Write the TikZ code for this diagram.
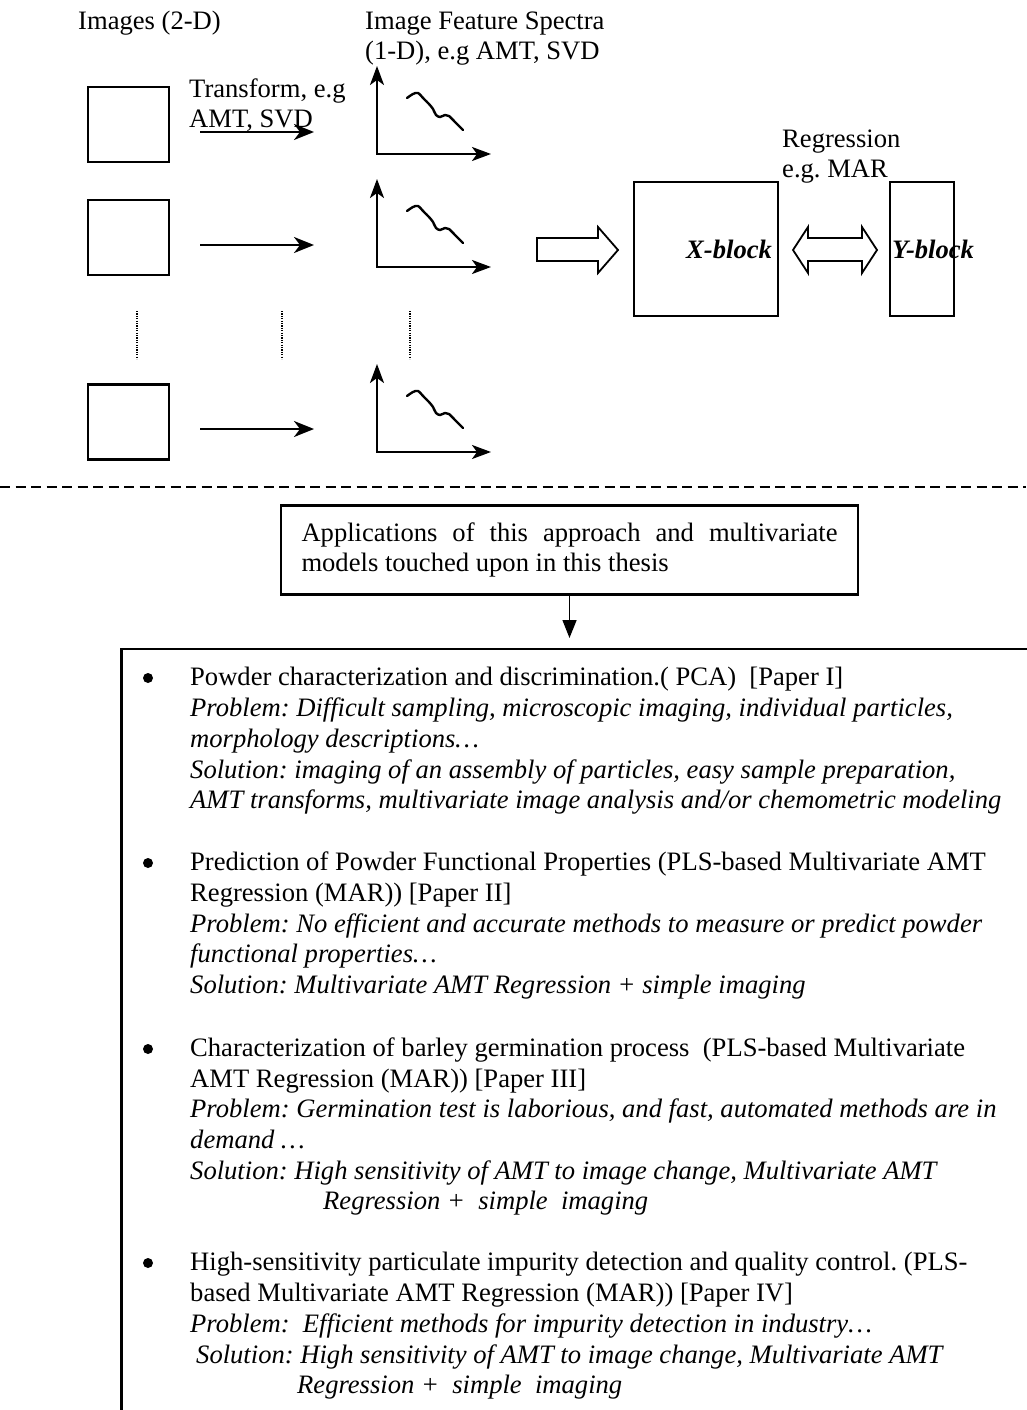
\documentclass[tikz,border=0pt]{standalone}
\usepackage{fontspec}
\setmainfont{Liberation Serif}
\usetikzlibrary{arrows.meta}
\frenchspacing
\tikzset{
  txt/.style={inner sep=0pt, anchor=base west, font=\fontsize{26.6}{31}\selectfont},
  itx/.style={inner sep=0pt, anchor=base west, font=\fontsize{26.6}{31}\selectfont\itshape},
  bix/.style={inner sep=0pt, anchor=base west, font=\fontsize{26.6}{31}\selectfont\bfseries\itshape},
  imgbox/.style={draw, line width=2.6pt, minimum width=81pt, minimum height=75pt, inner sep=0pt},
  blkbox/.style={draw, line width=1.8pt, inner sep=0pt},
  arr/.style={line width=2.3pt, -{Stealth[length=20pt,width=16pt,inset=6pt]}},
  axes/.style={line width=2.3pt, {Stealth[length=19pt,width=14pt,inset=5pt]}-{Stealth[length=19pt,width=14pt,inset=5pt]}},
  wave/.style={line width=2.4pt, line cap=round, line join=round},
  dots/.style={line width=1.3pt, dash pattern=on 1.2pt off 1.2pt},
  barrow/.style={draw, line width=1.8pt, line join=miter},
  dashsep/.style={line width=1.7pt, dash pattern=on 10pt off 5.5pt},
  bigbox/.style={line width=2.4pt},
  downarr/.style={line width=1.5pt, -{Triangle[length=18pt,width=14pt]}},
  bul/.style={circle, fill, inner sep=0pt, minimum size=10pt},
}
\begin{document}
\begin{tikzpicture}[x=1pt,y=-1pt]
\useasboundingbox (0,0) rectangle (1026,1410);

% headings
\node[txt] (hImg) at (78,30) {Images (2-D)};
\node[txt] (hSp1) at (365,30) {Image Feature Spectra};
\node[txt] (hSp2) at (365,60) {(1-D), e.g AMT, SVD};
\node[txt] (hTr1) at (189,98) {Transform, e.g};
\node[txt] (hTr2) at (189,128) {AMT, SVD};

% rows: images, arrows, spectra
\foreach \r/\by/\ay/\cy in {1/124.5/132/154, 2/237.5/245/267, 3/422/429/452}{
  \node[imgbox] (img\r) at (128.5,\by) {};
  \coordinate (as\r) at (200,\ay);
  \coordinate (ae\r) at (314,\ay);
  \draw[arr] (as\r) -- (ae\r);
  \coordinate (c\r) at (377,\cy);
  \coordinate (ty\r) at (377,\cy-88);
  \coordinate (tx\r) at (491,\cy);
  \draw[axes] (ty\r) -- (c\r) -- (tx\r);
  \draw[wave, shift={(377,\cy)}] plot[smooth, tension=0.5] coordinates
    {(30,-56) (36,-60) (41,-61) (47,-55) (52,-50) (56,-45) (59,-39) (63,-37) (68,-39) (72,-38) (78,-32) (86,-24)};
}

% dotted continuation marks
\draw[dots] (137,311) -- (137,359);
\draw[dots] (282,311) -- (282,359);
\draw[dots] (410,311) -- (410,359);

% block arrow into X-block
\draw[barrow] (537,238) -- (598,238) -- (598,227) -- (618,250) -- (598,273) -- (598,261) -- (537,261) -- cycle;

% X-block and Y-block
\node[blkbox, minimum width=144pt, minimum height=134pt] (xb) at (706,249) {};
\node[bix] (xbl) at (686,258) {X-block};
\node[blkbox, minimum width=64pt, minimum height=134pt] (yb) at (922,249) {};

% double arrow
\draw[barrow] (793,250) -- (808,227) -- (808,238) -- (862,238) -- (862,227) -- (877,250) -- (862,273) -- (862,261) -- (808,261) -- (808,273) -- cycle;

\node[bix] (ybl) at (892,258) {Y-block};
\node[txt] (rg1) at (782,147) {Regression};
\node[txt] (rg2) at (782,177) {e.g. MAR};

% dashed separator
\draw[dashsep] (0,487) -- (1026,487);

% applications box
\node[draw, line width=2.2pt, text width=536pt, inner xsep=20.5pt, inner ysep=0pt,
      minimum height=89pt, align=justify, font=\fontsize{26.6}{30}\selectfont] (app) at (569.5,550)
  {\hyphenpenalty=10000 Applications of this approach and multivariate\linebreak models touched upon in this thesis};
\coordinate (bt) at (569.5,638);
\draw[downarr] (app.south) -- (bt);

% big list box (open to right and bottom)
\draw[bigbox] (1030,649) -- (121.5,649) -- (121.5,1414);

% item 1
\node[bul] (b1) at (148,678) {};
\node[txt] at (190,685) {Powder characterization and discrimination.( PCA)\ \ [Paper I]};
\node[itx] at (190,716) {Problem: Difficult sampling, microscopic imaging, individual particles,};
\node[itx] at (190,747) {morphology descriptions…};
\node[itx] at (190,778) {Solution: imaging of an assembly of particles, easy sample preparation,};
\node[itx] at (190,808) {AMT transforms, multivariate image analysis and/or chemometric modeling};

% item 2
\node[bul] (b2) at (148,863) {};
\node[txt] at (190,870) {Prediction of Powder Functional Properties (PLS-based Multivariate AMT};
\node[txt] at (190,901) {Regression (MAR)) [Paper II]};
\node[itx] at (190,932) {Problem: No efficient and accurate methods to measure or predict powder};
\node[itx] at (190,962) {functional properties…};
\node[itx] at (190,993) {Solution: Multivariate AMT Regression + simple imaging};

% item 3
\node[bul] (b3) at (148,1049) {};
\node[txt] at (190,1056) {Characterization of barley germination process\ \ (PLS-based Multivariate};
\node[txt] at (190,1087) {AMT Regression (MAR)) [Paper III]};
\node[itx] at (190,1117) {Problem: Germination test is laborious, and fast, automated methods are in};
\node[itx] at (190,1148) {demand …};
\node[itx] at (190,1179) {Solution: High sensitivity of AMT to image change, Multivariate AMT};
\node[itx] at (323,1209) {Regression +\ \ simple\ \ imaging};

% item 4
\node[bul] (b4) at (148,1263) {};
\node[txt] at (190,1270) {High-sensitivity particulate impurity detection and quality control. (PLS-};
\node[txt] at (190,1301) {based Multivariate AMT Regression (MAR)) [Paper IV]};
\node[itx] at (190,1332) {Problem:\ \ Efficient methods for impurity detection in industry…};
\node[itx] at (196,1363) {Solution: High sensitivity of AMT to image change, Multivariate AMT};
\node[itx] at (297,1393) {Regression +\ \ simple\ \ imaging};
\end{tikzpicture}
\end{document}
